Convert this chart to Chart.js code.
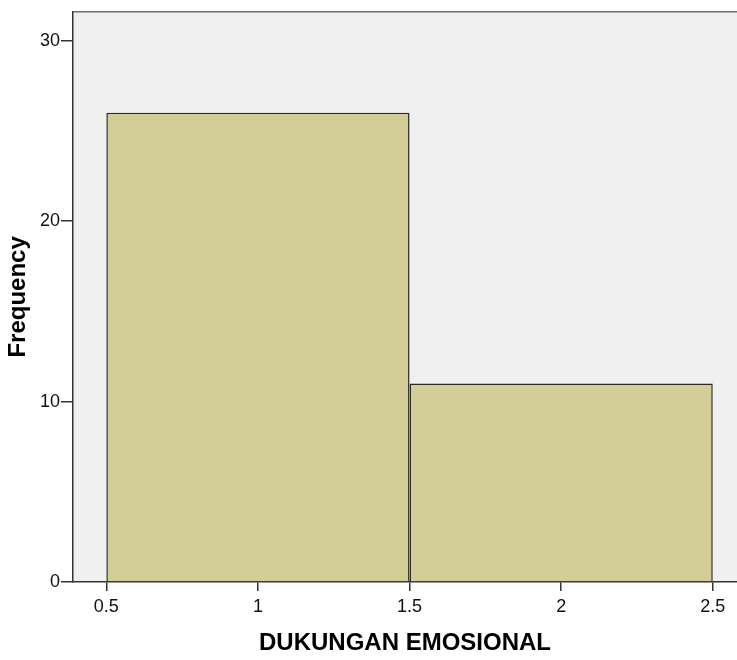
<!DOCTYPE html>
<html>
<head>
<meta charset="utf-8">
<script src="https://cdn.jsdelivr.net/npm/chart.js@4"></script>
<style>
  html, body { margin: 0; padding: 0; background: #fff; }
  #wrap { width: 737px; height: 660px; }
</style>
</head>
<body>
<div id="wrap"><canvas id="histChart"></canvas></div>
<script>
// bin centres (bins are 1 wide: 0.5-1.5, 1.5-2.5) and their counts
const binCenters = [1, 2];
const frequencies = [26, 11];
const xTicks = [0.5, 1, 1.5, 2, 2.5];
const yTicks = [0, 10, 20, 30];

const xTitle = "DUKUNGAN EMOSIONAL";
const yTitle = "Frequency";

const plotArea = {
  id: "plotArea",
  beforeDraw(chart) {
    const { ctx, chartArea } = chart;
    ctx.save();
    ctx.fillStyle = "#f0f0f0";
    ctx.fillRect(chartArea.left, chartArea.top, chartArea.right - chartArea.left, chartArea.bottom - chartArea.top);
    ctx.restore();
  },
  afterDraw(chart) {
    const { ctx, chartArea } = chart;
    ctx.save();
    ctx.strokeStyle = "#6e6e6e";
    ctx.lineWidth = 1.5;
    ctx.beginPath();
    ctx.moveTo(chartArea.left, chartArea.top);
    ctx.lineTo(chartArea.right, chartArea.top);
    ctx.stroke();
    ctx.restore();
  }
};

const tickFont = { family: "'Liberation Sans', Arial, sans-serif", size: 18 };
const titleFont = { family: "'Liberation Sans', Arial, sans-serif", size: 24, weight: "bold" };

new Chart(document.getElementById("histChart"), {
  type: "bar",
  data: {
    datasets: [{
      data: binCenters.map((x, i) => ({ x: x, y: frequencies[i] })),
      backgroundColor: "#d3ce97",
      borderColor: "#2b2b22",
      borderWidth: 1.5,
      // ticks are every 0.5, bins are 1 wide -> twice the tick spacing
      barPercentage: 2,
      categoryPercentage: 1
    }]
  },
  plugins: [plotArea],
  options: {
    responsive: true,
    maintainAspectRatio: false,
    animation: false,
    layout: { padding: { top: 11, right: 0, left: 0, bottom: 0 } },
    plugins: {
      legend: { display: false },
      tooltip: { enabled: false }
    },
    scales: {
      x: {
        type: "linear",
        offset: false,
        min: 0.39,
        max: 2.58,
        afterBuildTicks: (scale) => { scale.ticks = xTicks.map(v => ({ value: v })); },
        afterFit: (scale) => { scale.height = 78; },
        grid: { offset: false, drawOnChartArea: false, drawTicks: true, tickLength: 9, color: "#333", lineWidth: 1.5 },
        border: { display: true, color: "#333", width: 1.5 },
        ticks: { font: tickFont, color: "#111", padding: 5, maxRotation: 0, callback: (v) => String(v) },
        title: { display: true, text: xTitle, font: titleFont, color: "#000", padding: { top: 0, bottom: 2 } }
      },
      y: {
        min: 0,
        max: 31.6,
        afterBuildTicks: (scale) => { scale.ticks = yTicks.map(v => ({ value: v })); },
        afterFit: (scale) => { scale.width = 73; },
        grid: { drawOnChartArea: false, drawTicks: true, tickLength: 12, color: "#333", lineWidth: 1.5 },
        border: { display: true, color: "#333", width: 1.5 },
        ticks: { font: tickFont, color: "#111", padding: 1 },
        title: { display: true, text: yTitle, font: titleFont, color: "#000", padding: { top: 4, bottom: 0 } }
      }
    }
  }
});
</script>
</body>
</html>
